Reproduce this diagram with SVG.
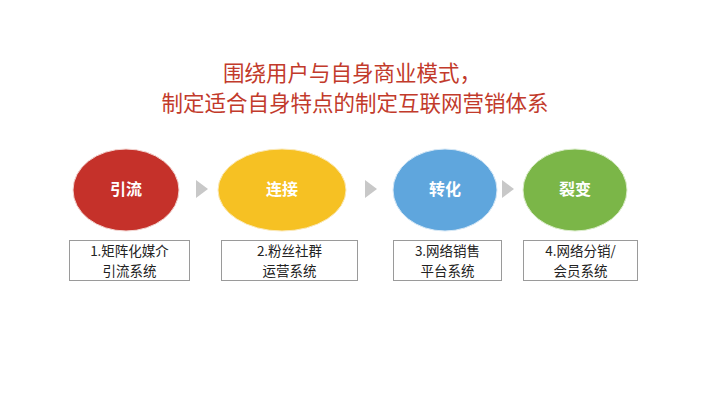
<svg xmlns="http://www.w3.org/2000/svg" width="708" height="400" viewBox="0 0 708 400">
<style>
.title{font-family:"Microsoft YaHei","Noto Sans CJK SC",sans-serif;font-size:21.5px;fill:#c23a2b;}
.lbl{font-family:"Noto Sans CJK SC",sans-serif;font-size:16px;font-weight:bold;fill:#ffffff;text-anchor:middle;}
.box{fill:#ffffff;stroke:#9a9a9a;stroke-width:1;}
.bt{font-family:"Noto Sans CJK SC",sans-serif;font-size:13.5px;fill:#222222;text-anchor:middle;}
.arr{fill:#c8c8c8;}
</style>
<rect width="708" height="400" fill="#ffffff"/>
<g id="title">
<text class="title" x="223" y="81">围绕用户与自身商业模式，</text>
<text class="title" x="355" y="111" text-anchor="middle">制定适合自身特点的制定互联网营销体系</text>
</g>
<g id="connectors">
<polygon class="arr" points="196,180 208,189 196,198"/>
<polygon class="arr" points="365,180 377,189 365,198"/>
<polygon class="arr" points="502,180 514,189 502,198"/>
</g>
<g id="node1">
<ellipse cx="126" cy="190" rx="53" ry="41" fill="#c5312a" stroke="#f3d6d2" stroke-width="1"/>
<text class="lbl" x="126" y="195">引流</text>
<rect class="box" x="69.5" y="240.5" width="120" height="40"/>
<text class="bt" x="129.5" y="256">1.矩阵化媒介</text>
<text class="bt" x="129.5" y="276">引流系统</text>
</g>
<g id="node2">
<ellipse cx="282" cy="190" rx="64" ry="41" fill="#f6c123" stroke="#fbe9b8" stroke-width="1"/>
<text class="lbl" x="282" y="195">连接</text>
<rect class="box" x="221.5" y="240.5" width="136" height="40"/>
<text class="bt" x="289.5" y="256">2.粉丝社群</text>
<text class="bt" x="289.5" y="276">运营系统</text>
</g>
<g id="node3">
<ellipse cx="445" cy="190" rx="52" ry="41" fill="#5fa6dd" stroke="#d6e8f6" stroke-width="1"/>
<text class="lbl" x="445" y="195">转化</text>
<rect class="box" x="393.5" y="240.5" width="108" height="40"/>
<text class="bt" x="447.5" y="256">3.网络销售</text>
<text class="bt" x="447.5" y="276">平台系统</text>
</g>
<g id="node4">
<ellipse cx="575" cy="190" rx="52" ry="41" fill="#7bb648" stroke="#dcedcc" stroke-width="1"/>
<text class="lbl" x="575" y="195">裂变</text>
<rect class="box" x="523.5" y="240.5" width="114" height="40"/>
<text class="bt" x="580.5" y="256">4.网络分销/</text>
<text class="bt" x="580.5" y="276">会员系统</text>
</g>
</svg>
